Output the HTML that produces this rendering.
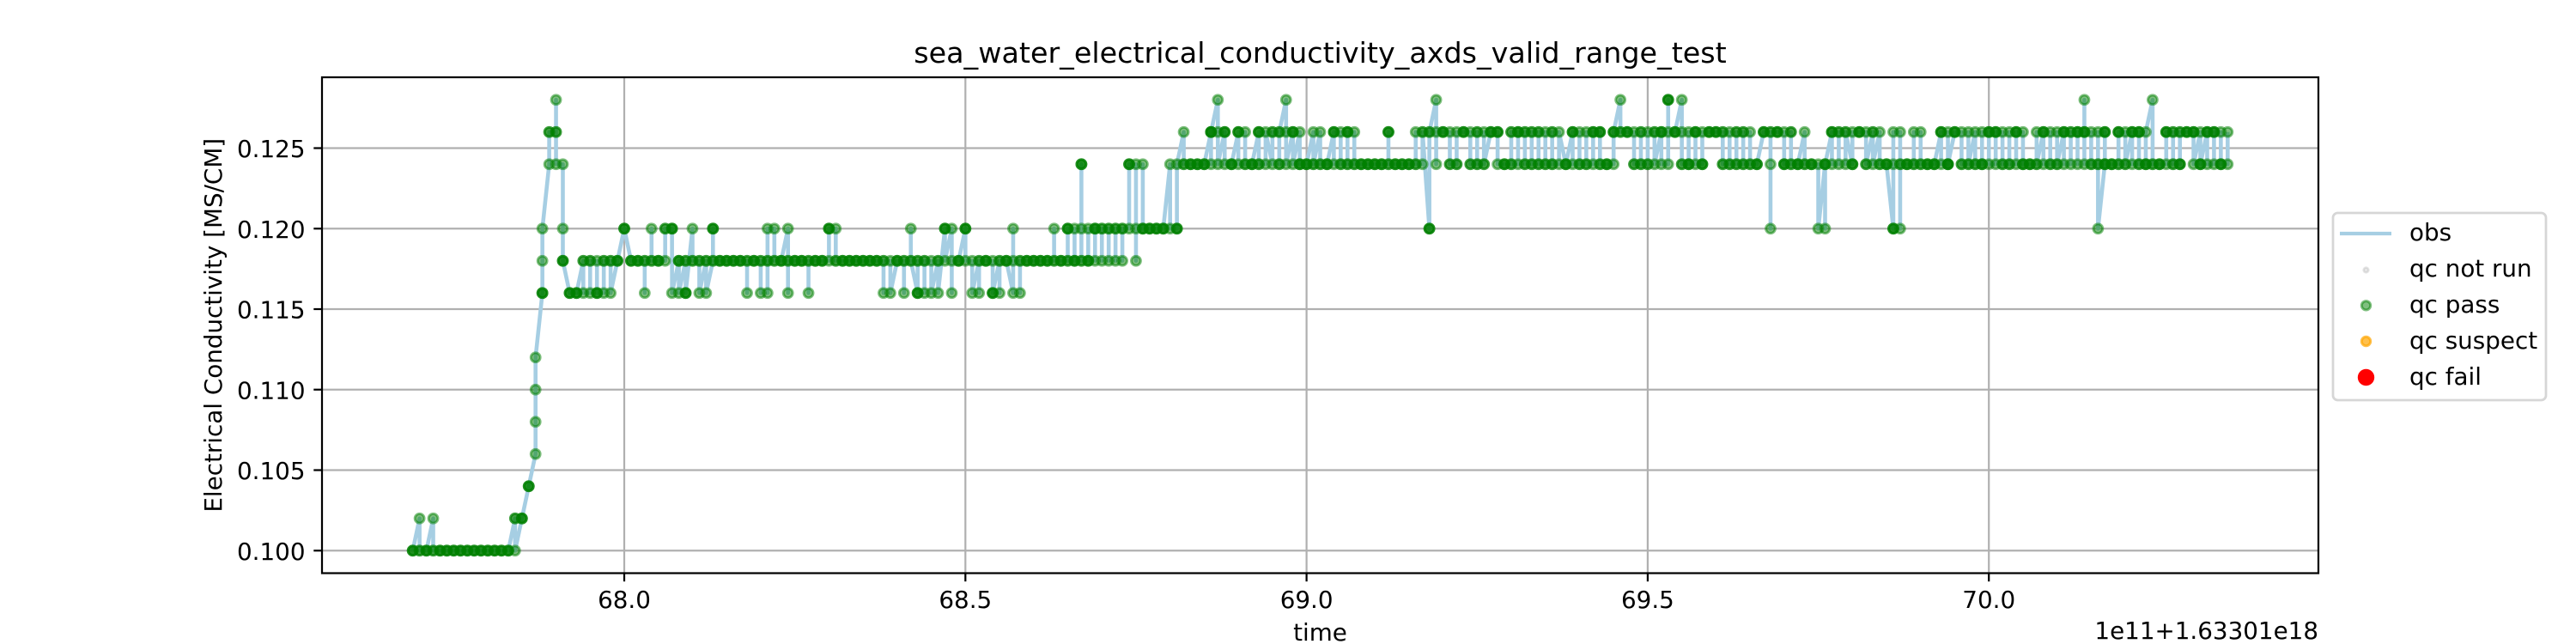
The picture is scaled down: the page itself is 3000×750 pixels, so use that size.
<!DOCTYPE html>
<html>
<head>
<meta charset="utf-8">
<title>sea_water_electrical_conductivity_axds_valid_range_test</title>
<style>
html,body{margin:0;padding:0;background:#fff;}
svg{display:block;}
text{font-family:"DejaVu Sans","Liberation Sans",sans-serif;fill:#000;}
</style>
</head>
<body>
<svg id="chart" xmlns="http://www.w3.org/2000/svg" width="3000" height="750" viewBox="0 0 3000 750">
  <rect x="0" y="0" width="3000" height="750" fill="#fff"/>
  <g id="grid"></g>
  <g id="series"></g>
  <g id="ticks"></g>
  <rect x="375" y="90" width="2325" height="577.5" fill="none" stroke="#000" stroke-width="2.22"/>
  <text x="1537.5" y="73" font-size="33.33" text-anchor="middle">sea_water_electrical_conductivity_axds_valid_range_test</text>
  <text x="1537.5" y="746" font-size="27.78" text-anchor="middle">time</text>
  <text x="2700" y="744" font-size="27.78" text-anchor="end">1e11+1.63301e18</text>
  <text x="258" y="378.75" font-size="27.78" text-anchor="middle" transform="rotate(-90 258 378.75)">Electrical Conductivity [MS/CM]</text>
  <g>
    <rect x="2717" y="248" width="248" height="218" rx="5.5" ry="5.5" fill="#fff" stroke="#d6d6d6" stroke-width="2.78"/>
    <line x1="2725" y1="272" x2="2785" y2="272" stroke="#a6cee3" stroke-width="4.17"/>
    <text x="2806" y="280" font-size="27.78">obs</text>
    <circle cx="2755.5" cy="314.5" r="2.9" fill="#a9a9a9" fill-opacity="0.3" stroke="#a9a9a9" stroke-opacity="0.3" stroke-width="2.4"/>
    <text x="2806" y="322" font-size="27.78">qc not run</text>
    <circle cx="2755.5" cy="355.8" r="5.2" fill="#008000" fill-opacity="0.5" stroke="#008000" stroke-opacity="0.5" stroke-width="3"/>
    <text x="2806" y="364" font-size="27.78">qc pass</text>
    <circle cx="2755.5" cy="397.5" r="5.2" fill="#ffa500" fill-opacity="0.7" stroke="#ffa500" stroke-opacity="0.7" stroke-width="3"/>
    <text x="2806" y="406" font-size="27.78">qc suspect</text>
    <circle cx="2755.5" cy="439.5" r="9.7" fill="#ff0000"/>
    <text x="2806" y="448" font-size="27.78">qc fail</text>
  </g>
</svg>
<script>
// Tick positions and labels
const xTickValues = [68.0, 68.5, 69.0, 69.5, 70.0];
const xTickLabels = ["68.0", "68.5", "69.0", "69.5", "70.0"];
const yTickValues = [100, 105, 110, 115, 120, 125];
const yTickLabels = ["0.100", "0.105", "0.110", "0.115", "0.120", "0.125"];

// Observation times (axis units), one per sampling column
const obsTimes = [
67.69,67.70,67.71,67.72,67.73,67.74,67.75,67.76,67.77,67.78,
67.79,67.80,67.81,67.82,67.83,67.84,67.85,67.86,67.87,67.88,
67.89,67.90,67.91,67.92,67.93,67.94,67.95,67.96,67.97,67.98,
67.99,68.00,68.01,68.02,68.03,68.04,68.05,68.06,68.07,68.08,
68.09,68.10,68.11,68.12,68.13,68.14,68.15,68.16,68.17,68.18,
68.19,68.20,68.21,68.22,68.23,68.24,68.25,68.26,68.27,68.28,
68.29,68.30,68.31,68.32,68.33,68.34,68.35,68.36,68.37,68.38,
68.39,68.40,68.41,68.42,68.43,68.44,68.45,68.46,68.47,68.48,
68.49,68.50,68.51,68.52,68.53,68.54,68.55,68.56,68.57,68.58,
68.59,68.60,68.61,68.62,68.63,68.64,68.65,68.66,68.67,68.68,
68.69,68.70,68.71,68.72,68.73,68.74,68.75,68.76,68.77,68.78,
68.79,68.80,68.81,68.82,68.83,68.84,68.85,68.86,68.87,68.88,
68.89,68.90,68.91,68.92,68.93,68.94,68.95,68.96,68.97,68.98,
68.99,69.00,69.01,69.02,69.03,69.04,69.05,69.06,69.07,69.08,
69.09,69.10,69.11,69.12,69.13,69.14,69.15,69.16,69.17,69.18,
69.19,69.20,69.21,69.22,69.23,69.24,69.25,69.26,69.27,69.28,
69.29,69.30,69.31,69.32,69.33,69.34,69.35,69.36,69.37,69.38,
69.39,69.40,69.41,69.42,69.43,69.44,69.45,69.46,69.47,69.48,
69.49,69.50,69.51,69.52,69.53,69.54,69.55,69.56,69.57,69.58,
69.59,69.60,69.61,69.62,69.63,69.64,69.65,69.66,69.67,69.68,
69.69,69.70,69.71,69.72,69.73,69.74,69.75,69.76,69.77,69.78,
69.79,69.80,69.81,69.82,69.83,69.84,69.85,69.86,69.87,69.88,
69.89,69.90,69.91,69.92,69.93,69.94,69.95,69.96,69.97,69.98,
69.99,70.00,70.01,70.02,70.03,70.04,70.05,70.06,70.07,70.08,
70.09,70.10,70.11,70.12,70.13,70.14,70.15,70.16,70.17,70.18,
70.19,70.20,70.21,70.22,70.23,70.24,70.25,70.26,70.27,70.28,
70.29,70.30,70.31,70.32,70.33,70.34,70.35
];

// Conductivity readings (thousandths of MS/CM), in order, per time column
const obsReadings = [
[100,100,100],[102,100,100],[100,100,100],[102,100,100],[100,100,100],[100,100,100],[100,100,100],[100,100,100],[100,100,100],[100,100,100],
[100,100,100],[100,100,100],[100,100,100],[100,100,100],[100,100,100],[102,102,100],[102,102,102],[104,104,104],[106,108,110,112],[116,116,116,118,120],
[124,126,126],[126,126,128,124],[124,120,118,118,118],[116,116,116],[116,116,116],[118,118,116],[116,118,118],[118,116,116,116],[116,118,118],[118,118,116],
[118,118,118],[120,120,120],[118,118,118],[118,118,118],[118,116,118],[118,120,118],[118,118,118],[118,120,120],[120,120,120,116],[118,118,118,116],
[118,118,116,116,116],[120,118,118],[118,118,116],[118,118,116],[118,120,120,120,118],[118,118,118],[118,118,118],[118,118,118],[118,118,118],[118,116,118],
[118,118,118],[118,116,118],[118,116,118,120],[120,118,118],[118,118,118],[120,116,118,118],[118,118,118],[118,118,118],[118,116,118],[118,118,118],
[118,118,118],[118,120,120,120],[120,118,118],[118,118,118],[118,118,118],[118,118,118],[118,118,118],[118,118,118],[118,118,118],[118,116,118],
[118,116],[118,118,118],[118,116,118],[118,120,118],[116,116,116,118,118],[118,116,118],[118,116],[118,118,116],[120,120,120,118],[120,116,118],
[118,118,118],[120,120,120,118],[118,116],[118,116,118],[118,118,118],[118,116,116,116],[118,116,118],[118,118,118],[116,120,118],[118,116,118],
[118,118,118],[118,118,118],[118,118,118],[118,118,118],[118,120,118],[118,118,118],[118,120,120,120,118],[118,120,118,118],[118,124,124,124,120,118],[118,118,118,120],
[120,120,118,120],[120,118,120],[120,118,120],[120,118,120],[120,118,120],[120,124,124,124],[124,118,120],[120,124,120,120],[120,120,120],[120,120,120],
[120,120,120],[124,120],[120,120,120,124],[126,124,124],[124,124,124],[124,124,124],[124,124,124],[126,126,126,124,126],[128,126,124],[126,126,126,124],
[124,124,124],[126,126,126,124],[124,126,124],[124,124,124],[126,126,126,124,124],[124,126],[124,126,126],[126,124,124,126],[128,126,124],[126,126,126,124],
[126,124,124,124],[124,124,124],[126,124,124],[126,124,124],[124,124,124],[126,126,126,124],[124,126,124],[124,126,126,126,124],[124,126,124],[124,124,124],
[124,124,124],[124,124,124],[124,124,124],[124,126,126,126,124],[124,124,124],[124,124,124],[124,124,124],[124,126,124],[124,126,126],[120,120,120,126,126],
[128,124,126],[126,126,126],[126,124,124],[124,124,126],[126,126,126],[126,124,124],[124,126,126,124],[124,126,124],[126,126,126],[126,126,126,124],
[124,124,124],[124,126,126,124],[124,126,126,126],[126,124,124,126],[126,124,124,126],[126,124,124,126],[126,124,124],[124,126,126,124],[124,126],[124,124,124],
[126,126,126,124],[124,126,124],[124,126,124],[124,126,126,126],[126,126,126,124,124],[124,124,124],[124,126,126,126],[128,126,126],[126,126,126],[126,124,124],
[124,126,126,124],[124,124,126],[126,126,124],[126,126,126,124],[124,128,128,128,126],[126,126,126],[128,126,124,124],[124,124,124,126],[126,126,126,124],[124,124,124,126],
[126,126,126],[126,126,126],[126,124,124,126],[126,124,124],[124,126,126,124],[124,126,126,124],[124,126,124],[124,124,124],[126,126,126],[126,120,124,126],
[126,126,126],[126,124,124,124],[124,126,126,124],[124,124,124],[126,124,124],[124,124,124],[124,120],[124,124,120,124],[126,126,126,124],[124,126,126],
[126,124,126],[124,124,124,126],[126,126,126],[126,124,124],[126,126,124],[126,124,124],[124,124,124],[120,120,120,124,126],[126,120,124,124],[124,124,124],
[124,126,124],[124,126,124],[124,124,124],[124,124,124],[126,126,126,124],[124,126,124,124,124],[126,126,126],[126,124,124],[124,126,124],[126,124,124],
[124,124,124,126],[126,126,126,124],[124,126,126,126],[126,124,124],[124,126,124],[124,126,126,126],[126,124,124,124],[124,124,124],[124,126,124],[126,126,126,124],
[124,126,124],[124,126,124],[126,126,126,124],[124,126,126],[126,124,126,126],[126,128,126,126,124],[124,126,124],[124,126,124,120],[124,124,126,126,126,124],[124,124,124],
[124,124,126,126,126],[126,124,124],[126,126,126,124],[124,126,126,126,124],[124,124,124,126],[128,124,124],[124,124,124],[124,126,126,126],[126,124,124,126],[126,124,124,124,126],
[126,126,126],[126,126,126,124],[126,124,124,124],[126,126,126,124],[124,126,126,126],[126,124,124,124],[124,126]
];

const SVG_NS = "http://www.w3.org/2000/svg";
const plotLeft = 375, plotRight = 2700, plotTop = 90, plotBottom = 667.5;
const xDomainMin = 67.557, xDomainMax = 70.483;
const yDomainMin = 98.6, yDomainMax = 129.4;

function xScale(t) {
  return plotLeft + (t - xDomainMin) / (xDomainMax - xDomainMin) * (plotRight - plotLeft);
}
function yScale(v) {
  return plotBottom - (v - yDomainMin) / (yDomainMax - yDomainMin) * (plotBottom - plotTop);
}
function make(tag, parent) {
  const el = document.createElementNS(SVG_NS, tag);
  parent.appendChild(el);
  return el;
}

const gridGroup = document.getElementById("grid");
const tickGroup = document.getElementById("ticks");
const seriesGroup = document.getElementById("series");

xTickValues.forEach(function (value, i) {
  const x = xScale(value);
  const grid = make("line", gridGroup);
  
  
  grid.setAttribute("x1", x); grid.setAttribute("x2", x);
  grid.setAttribute("y1", plotTop); grid.setAttribute("y2", plotBottom);
  grid.setAttribute("stroke", "#b0b0b0"); grid.setAttribute("stroke-width", "2.22");
  const tick = make("line", tickGroup);
  
  
  tick.setAttribute("x1", x); tick.setAttribute("x2", x);
  tick.setAttribute("y1", plotBottom); tick.setAttribute("y2", plotBottom + 9.7);
  tick.setAttribute("stroke", "#000"); tick.setAttribute("stroke-width", "2.22");
  const label = make("text", tickGroup);
  
  
  label.setAttribute("x", x); label.setAttribute("y", 708);
  label.setAttribute("font-size", "27.78"); label.setAttribute("text-anchor", "middle");
  label.textContent = xTickLabels[i];
});

yTickValues.forEach(function (value, i) {
  const y = yScale(value);
  const grid = make("line", gridGroup);
  
  
  grid.setAttribute("x1", plotLeft); grid.setAttribute("x2", plotRight);
  grid.setAttribute("y1", y); grid.setAttribute("y2", y);
  grid.setAttribute("stroke", "#b0b0b0"); grid.setAttribute("stroke-width", "2.22");
  const tick = make("line", tickGroup);
  
  
  tick.setAttribute("x1", plotLeft - 9.7); tick.setAttribute("x2", plotLeft);
  tick.setAttribute("y1", y); tick.setAttribute("y2", y);
  tick.setAttribute("stroke", "#000"); tick.setAttribute("stroke-width", "2.22");
  const label = make("text", tickGroup);
  
  
  label.setAttribute("x", 355.5); label.setAttribute("y", y + 10.5);
  label.setAttribute("font-size", "27.78"); label.setAttribute("text-anchor", "end");
  label.textContent = yTickLabels[i];
});

const linePoints = [];
obsReadings.forEach(function (column, i) {
  column.forEach(function (value) {
    linePoints.push(xScale(obsTimes[i]).toFixed(2) + "," + yScale(value).toFixed(2));
  });
});
const obsLine = make("polyline", seriesGroup);


obsLine.setAttribute("points", linePoints.join(" "));
obsLine.setAttribute("fill", "none");
obsLine.setAttribute("stroke", "#a6cee3");
obsLine.setAttribute("stroke-width", "4.6");
obsLine.setAttribute("stroke-linejoin", "round");

obsReadings.forEach(function (column, i) {
  column.forEach(function (value) {
    const dot = make("circle", seriesGroup);
    
    
    dot.setAttribute("cx", xScale(obsTimes[i]).toFixed(2));
    dot.setAttribute("cy", yScale(value).toFixed(2));
    dot.setAttribute("r", "5.4");
    dot.setAttribute("fill", "#008000");
    dot.setAttribute("fill-opacity", "0.5");
    dot.setAttribute("stroke", "#008000");
    dot.setAttribute("stroke-opacity", "0.5");
    dot.setAttribute("stroke-width", "3");
  });
});
</script>
</body>
</html>
